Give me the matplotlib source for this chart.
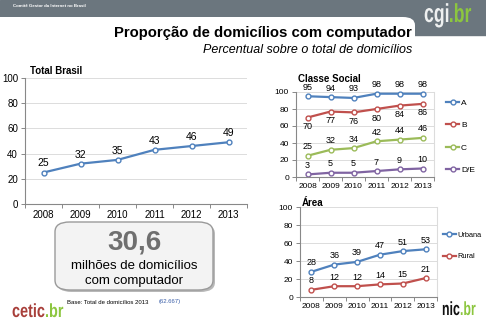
import numpy as np
import matplotlib.pyplot as plt
import matplotlib.transforms as mtransforms
from matplotlib.patches import FancyBboxPatch, Rectangle, PathPatch
from matplotlib.textpath import TextPath
from matplotlib.font_manager import FontProperties

plt.rcParams['font.family'] = ['Liberation Sans', 'DejaVu Sans']

# ---- data ----
years = ['2008', '2009', '2010', '2011', '2012', '2013']
total_brasil = [25, 32, 35, 43, 46, 49]

classe_names = ['A', 'B', 'C', 'D/E']
classe_a = [95, 94, 93, 98, 98, 98]
classe_b = [70, 77, 76, 80, 84, 86]
classe_c = [25, 32, 34, 42, 44, 46]
classe_de = [3, 5, 5, 7, 9, 10]

area_names = ['Urbana', 'Rural']
area_urbana = [28, 36, 39, 47, 51, 53]
area_rural = [8, 12, 12, 14, 15, 21]

BLUE, RED, GREEN, PURPLE = '#4f81bd', '#c0504d', '#9bbb59', '#8064a2'
LIME = '#8cc63f'

W, H = 486, 328
fig = plt.figure(figsize=(W / 100, H / 100), dpi=100)


def rect(left, top, right, bottom):
    """pixel box -> figure fraction [l, b, w, h]"""
    return [left / W, 1 - bottom / H, (right - left) / W, (bottom - top) / H]


def fx(x):
    return x / W


def fy(y):
    return 1 - y / H


def logo(word, x, baseline, em_px, xscale, color):
    """condensed bold word + green '.br', drawn as paths in pixel units"""
    fp = FontProperties(family='Liberation Sans', weight='bold')
    s = em_px / 100.0  # TextPath size 100 -> scale to pixels
    p1 = TextPath((0, 0), word, size=100, prop=fp)
    t1 = mtransforms.Affine2D().scale(s * xscale, s).translate(x, H - baseline)
    fig.add_artist(PathPatch(p1, transform=t1, fc=color, ec='none', zorder=5))
    w1 = p1.get_extents().x1 * s * xscale
    p2 = TextPath((0, 0), '.br', size=100, prop=fp)
    t2 = mtransforms.Affine2D().scale(s * xscale, s).translate(x + w1 + 0.5, H - baseline)
    fig.add_artist(PathPatch(p2, transform=t2, fc=LIME, ec='none', zorder=5))


# ---- header band ----
fig.patches.append(Rectangle((0, fy(35)), 1, 35 / H, transform=fig.transFigure,
                             color='#6b767e', zorder=0))
fig.patches.append(FancyBboxPatch((fx(-20), fy(62)), fx(435), (62 - 17) / H,
                                  boxstyle='round,pad=0,rounding_size=0.025',
                                  transform=fig.transFigure, fc='white', ec='none', zorder=0.5))
fig.text(fx(13), fy(6), 'Comitê Gestor da Internet no Brasil', fontsize=3.2,
         color='white', va='center', weight='bold')
logo('cgi', 424, 22, 26, 0.68, '#eef0f0')

fig.text(fx(412), fy(33), 'Proporção de domicílios com computador', fontsize=10.7,
         weight='bold', ha='right', va='center')
fig.text(fx(412), fy(50), 'Percentual sobre o total de domicílios', fontsize=9,
         style='italic', ha='right', va='center')


def style_axes(ax, fs):
    ax.set_zorder(3)
    ax.set_xlim(-0.5, 5.5)
    ax.set_ylim(0, 100)
    ax.set_yticks(range(0, 101, 20))
    ax.set_xticks(range(len(years)))
    ax.set_xticklabels(years)
    ax.set_xticks(np.arange(-0.5, len(years)), minor=True)
    ax.tick_params(axis='x', which='major', length=0, labelsize=fs, pad=4)
    ax.tick_params(axis='x', which='minor', length=3, color='#888888', width=0.7)
    ax.tick_params(axis='y', length=3, labelsize=fs, color='#888888', width=0.7, pad=2)
    ax.grid(axis='y', color='#dcdcdc', lw=0.7)
    ax.set_axisbelow(True)
    for s in ['top', 'right']:
        ax.spines[s].set_visible(False)
    for s in ['left', 'bottom']:
        ax.spines[s].set_color('#888888')
        ax.spines[s].set_linewidth(0.8)
    ax.patch.set_alpha(0)


def series(ax, values, color, label, fs, offset=6.5, ms=3.5):
    x = np.arange(len(values))
    ax.plot(x, values, color=color, lw=1.6, marker='o', ms=ms, mfc='white',
            mec=color, mew=1.0, label=label, clip_on=False)
    for xi, v in zip(x, values):
        ax.annotate(str(v), (xi, v), xytext=(0, offset), textcoords='offset points',
                    ha='center', va='center', fontsize=fs)


# ---- Total Brasil ----
ax1 = fig.add_axes(rect(25, 78, 247, 204))
style_axes(ax1, 7)
series(ax1, total_brasil, BLUE, 'Total Brasil', 7.5)
fig.text(fx(30), fy(71), 'Total Brasil', fontsize=7, weight='bold', va='center')

# ---- Classe Social ----
ax2 = fig.add_axes(rect(296, 92, 434, 177))
style_axes(ax2, 6)
ax2.spines['right'].set_visible(True)
ax2.spines['right'].set_color('#dcdcdc')
series(ax2, classe_a, BLUE, classe_names[0], 6.5)
series(ax2, classe_b, RED, classe_names[1], 6.5, offset=-6.5)
series(ax2, classe_c, GREEN, classe_names[2], 6.5)
series(ax2, classe_de, PURPLE, classe_names[3], 6.5)
ax2.legend(loc='center left', bbox_to_anchor=(1 + 12 / 138, 0.476), frameon=False,
           fontsize=6, handlelength=1.6, handletextpad=0.2, labelspacing=1.75,
           borderpad=0, borderaxespad=0)
fig.text(fx(298), fy(79), 'Classe Social', fontsize=7, weight='bold', va='center')

# ---- Área ----
ax3 = fig.add_axes(rect(300, 207, 437, 297))
style_axes(ax3, 6)
ax3.spines['right'].set_visible(True)
ax3.spines['right'].set_color('#dcdcdc')
series(ax3, area_urbana, BLUE, area_names[0], 6.5)
series(ax3, area_rural, RED, area_names[1], 6.5)
ax3.legend(loc='center left', bbox_to_anchor=(1 + 6 / 137, 0.567), frameon=False,
           fontsize=5.3, handlelength=1.7, handletextpad=0.2, labelspacing=2.0,
           borderpad=0, borderaxespad=0)
fig.text(fx(302), fy(203), 'Área', fontsize=7, weight='bold', va='center')

# ---- highlight box ----
fig.patches.append(FancyBboxPatch((fx(57), fy(292)), fx(158), (290 - 222) / H,
                                  boxstyle='round,pad=0,rounding_size=0.03',
                                  transform=fig.transFigure, fc='#b8b8b8', ec='none',
                                  zorder=1))
fig.patches.append(FancyBboxPatch((fx(55), fy(290)), fx(158), (290 - 222) / H,
                                  boxstyle='round,pad=0,rounding_size=0.03',
                                  transform=fig.transFigure, fc='#f3f3f3', ec='#9a9a9a',
                                  lw=1.0, zorder=1.1))
fig.text(fx(134), fy(243), '30,6', fontsize=20, weight='bold', color='#6f6f6f',
         ha='center', va='center', zorder=2)
fig.text(fx(134), fy(266), 'milhões de domicílios', fontsize=9.5,
         ha='center', va='center', zorder=2)
fig.text(fx(134), fy(281), 'com computador', fontsize=9.5,
         ha='center', va='center', zorder=2)

fig.text(fx(67), fy(302), 'Base: Total de domicílios 2013', fontsize=4.3, va='center')
fig.text(fx(159), fy(302), '(62.667)', fontsize=4.3, va='center', color='#3a5ea8')

# ---- footer logos ----
logo('cetic', 12, 317, 19, 0.76, '#a83f3a')
logo('nic', 442, 315, 19, 0.65, '#111111')

fig.savefig('out.png', dpi=100)
